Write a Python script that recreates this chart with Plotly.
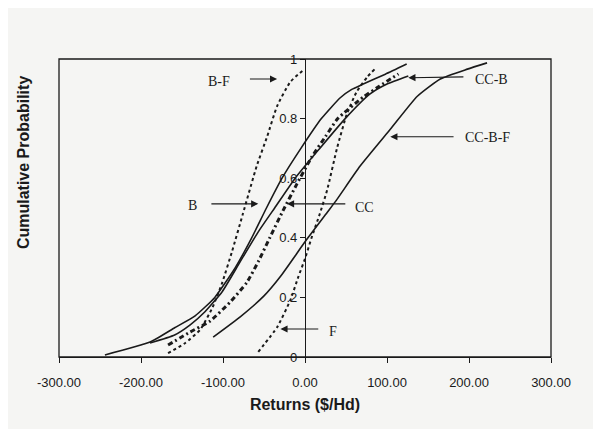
import plotly.graph_objects as go

# ---- data ----
bf_x = [-167, -146, -128, -113, -101, -89, -76, -59, -46, -34, -18, -2]
bf_y = [0.013, 0.047, 0.091, 0.165, 0.249, 0.354, 0.478, 0.640, 0.741, 0.842, 0.923, 0.963]

f_x = [-57, -34, -18, -8, 0, 8, 18, 27, 39, 51, 63, 76, 85]
f_y = [0.017, 0.10, 0.19, 0.27, 0.33, 0.40, 0.48, 0.56, 0.70, 0.815, 0.89, 0.94, 0.966]

ccbf_x = [-112, -79, -50, -30, 2, 27, 39, 67, 104, 137, 165, 198, 222]
ccbf_y = [0.067, 0.135, 0.205, 0.27, 0.394, 0.485, 0.529, 0.640, 0.764, 0.875, 0.933, 0.966, 0.987]

b_x = [-244, -189, -159, -134, -110, -85, -65, -47, -28, -5, 20, 43, 57, 71, 98, 124]
b_y = [0.007, 0.05, 0.098, 0.138, 0.20, 0.30, 0.40, 0.5, 0.6, 0.7, 0.8, 0.870, 0.898, 0.916, 0.949, 0.983]

ccb_x = [-189, -159, -140, -122, -101, -79, -57, -37, -12, 18, 49, 79, 100, 126]
ccb_y = [0.047, 0.074, 0.108, 0.152, 0.219, 0.32, 0.42, 0.5, 0.6, 0.7, 0.8, 0.882, 0.916, 0.943]

cc_x = [-167, -140, -116, -91, -71, -57, -43, -27, -10, 8, 25, 40, 71, 91, 114]
cc_y = [0.04, 0.084, 0.12, 0.185, 0.25, 0.32, 0.40, 0.49, 0.58, 0.67, 0.74, 0.8, 0.872, 0.909, 0.95]

x_ticks = [-300, -200, -100, 0, 100, 200, 300]
x_tick_text = [f"{v:.2f}" for v in x_ticks]
y_ticks = [0, 0.2, 0.4, 0.6, 0.8, 1]

# labels with arrows: (text, text_x, text_y, tail_x, tail_y, head_x, head_y)
labels = [
    ("B-F", -105, 0.923, -69, 0.933, -34, 0.933),
    ("B", -137, 0.507, -116, 0.514, -57, 0.514),
    ("CC", 73, 0.503, 51, 0.514, -22, 0.514),
    ("CC-B", 227, 0.930, 195, 0.940, 126, 0.937),
    ("CC-B-F", 223, 0.735, 183, 0.739, 104, 0.739),
    ("F", 34, 0.084, 18, 0.094, -30, 0.094),
]

BG = "#f5f5f3"
INK = "#1a1a1a"
SANS = "Liberation Sans, Arial, sans-serif"

fig = go.Figure()

def add(xs, ys, name, dash, width):
    fig.add_trace(go.Scatter(
        x=xs, y=ys, name=name, mode="lines",
        line=dict(color=INK, width=width, dash=dash, shape="spline", smoothing=0.5),
        showlegend=False,
    ))

add(bf_x, bf_y, "B-F", "dot", 2)
add(f_x, f_y, "F", "dot", 2)
add(ccbf_x, ccbf_y, "CC-B-F", "solid", 1.6)
add(b_x, b_y, "B", "solid", 1.6)
add(ccb_x, ccb_y, "CC-B", "solid", 1.6)
add(cc_x, cc_y, "CC", "5px,3px,2px,3px", 3)

anns = []
for t, tx, ty, ax, ay, hx, hy in labels:
    anns.append(dict(x=hx, y=hy, ax=ax, ay=ay, xref="x", yref="y", axref="x", ayref="y",
                     text="", showarrow=True, arrowhead=2, arrowsize=1.3, arrowwidth=1.1,
                     arrowcolor=INK))
    anns.append(dict(x=tx, y=ty, xref="x", yref="y", text=t, showarrow=False,
                     font=dict(family="Liberation Serif, Times New Roman, serif", size=14, color=INK)))

anns.append(dict(x=-0.073, y=0.651, xref="paper", yref="paper", text="<b>Cumulative Probability</b>",
                 textangle=-90, showarrow=False, xanchor="center", yanchor="middle",
                 font=dict(family=SANS, size=16, color=INK)))

fig.update_layout(
    width=593, height=421,
    margin=dict(l=51, r=50, t=51, b=72),
    paper_bgcolor=BG, plot_bgcolor=BG,
    font=dict(family=SANS, size=13, color=INK),
    annotations=anns,
    shapes=[dict(type="rect", xref="paper", yref="paper", x0=0, x1=1, y0=0, y1=1,
                 line=dict(color=INK, width=1.3))],
    xaxis=dict(range=[-300, 300], tickvals=x_ticks, ticktext=x_tick_text,
               showgrid=False, zeroline=False, showline=True, linecolor=INK, linewidth=1.3,
               ticks="outside", ticklen=5, tickcolor=INK, ticklabelstandoff=8,
               title=dict(text="<b>Returns ($/Hd)</b>", font=dict(size=16), standoff=10)),
    yaxis=dict(range=[0, 1], tickvals=y_ticks, anchor="free", position=0.5, side="left",
               showgrid=False, zeroline=False, showline=True, linecolor=INK, linewidth=1.2,
               ticks="outside", ticklen=5, tickcolor=INK, tickfont=dict(size=13)),
)

fig.write_html("out.html")
